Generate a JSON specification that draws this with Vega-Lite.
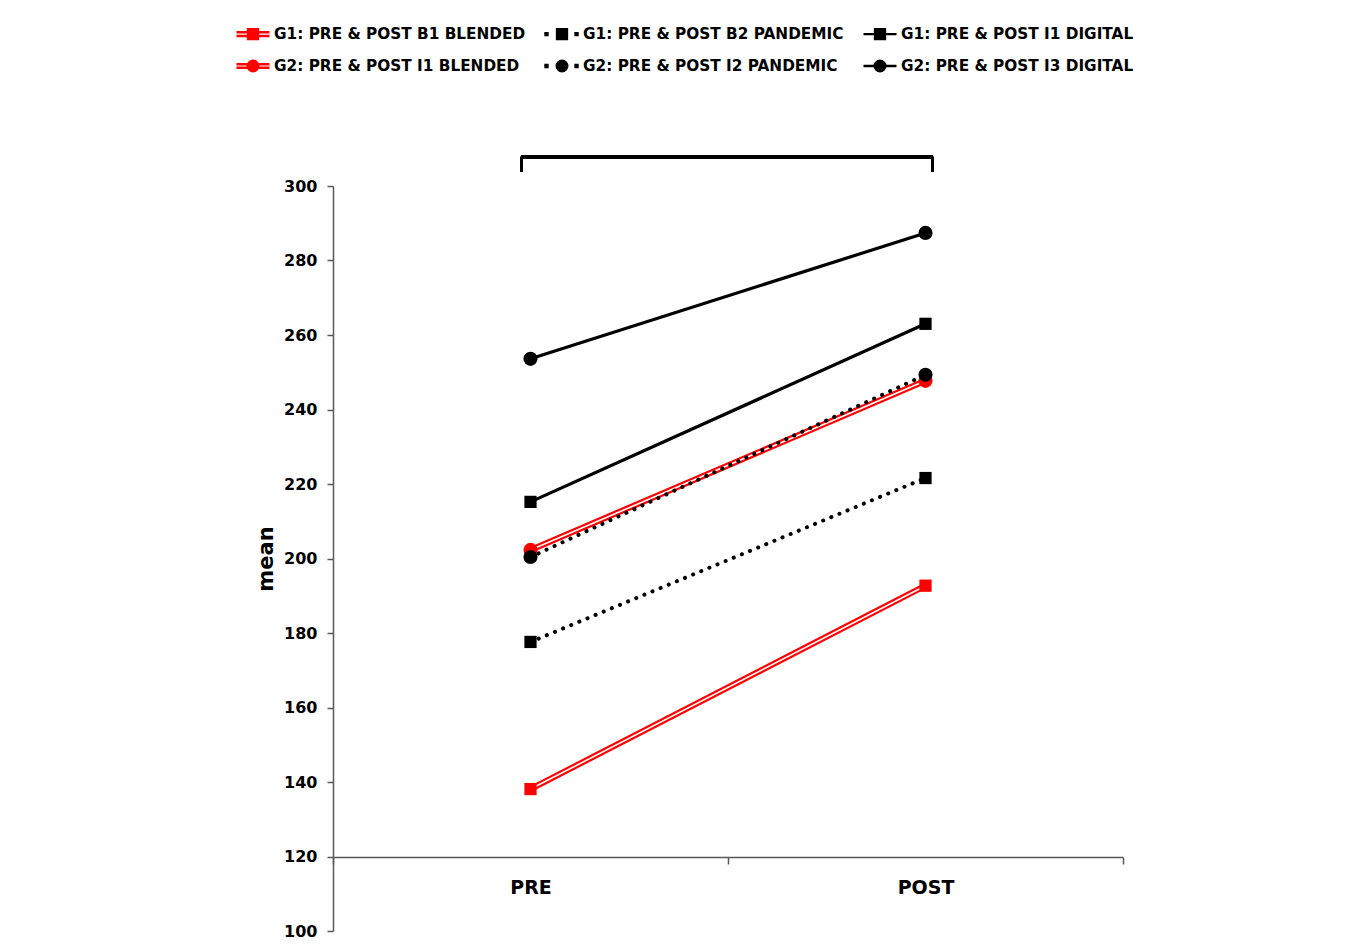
{
  "$schema": "https://vega.github.io/schema/vega-lite/v6.json",
  "width": 790,
  "height": 745,
  "autosize": {"type": "none"},
  "padding": {"left": 333, "top": 186, "right": 234, "bottom": 15},
  "background": "white",
  "config": {
    "font": "DejaVu Sans",
    "view": {"stroke": null},
    "axis": {"grid": false, "domainColor": "#595959", "tickColor": "#595959", "domainWidth": 1.5, "tickWidth": 1.5, "labelColor": "black", "labelFontWeight": "bold"},
    "legend": {"padding": 0, "labelFontSize": 15.3, "labelFontWeight": "bold", "labelColor": "black", "labelFont": "DejaVu Sans", "labelOffset": 3, "columnPadding": 14, "rowPadding": 4, "symbolSize": 1089, "symbolStrokeWidth": 2.4, "labelLimit": 400}
  },
  "data": {
    "values": [
      {"series": "G1: PRE & POST B1 BLENDED", "group": "G1", "kind": "blended", "time": "PRE", "mean": 138.1},
      {"series": "G1: PRE & POST B1 BLENDED", "group": "G1", "kind": "blended", "time": "POST", "mean": 192.7},
      {"series": "G2: PRE & POST I1 BLENDED", "group": "G2", "kind": "blended", "time": "PRE", "mean": 202.3},
      {"series": "G2: PRE & POST I1 BLENDED", "group": "G2", "kind": "blended", "time": "POST", "mean": 247.7},
      {"series": "G1: PRE & POST B2 PANDEMIC", "group": "G1", "kind": "pandemic", "time": "PRE", "mean": 177.6},
      {"series": "G1: PRE & POST B2 PANDEMIC", "group": "G1", "kind": "pandemic", "time": "POST", "mean": 221.6},
      {"series": "G2: PRE & POST I2 PANDEMIC", "group": "G2", "kind": "pandemic", "time": "PRE", "mean": 200.4},
      {"series": "G2: PRE & POST I2 PANDEMIC", "group": "G2", "kind": "pandemic", "time": "POST", "mean": 249.3},
      {"series": "G1: PRE & POST I1 DIGITAL", "group": "G1", "kind": "digital", "time": "PRE", "mean": 215.2},
      {"series": "G1: PRE & POST I1 DIGITAL", "group": "G1", "kind": "digital", "time": "POST", "mean": 263.0},
      {"series": "G2: PRE & POST I3 DIGITAL", "group": "G2", "kind": "digital", "time": "PRE", "mean": 253.6},
      {"series": "G2: PRE & POST I3 DIGITAL", "group": "G2", "kind": "digital", "time": "POST", "mean": 287.4}
    ]
  },
  "encoding": {
    "x": {
      "field": "time", "type": "nominal",
      "scale": {"type": "band", "domain": ["PRE", "POST"], "paddingInner": 0, "paddingOuter": 0},
      "axis": {"title": null, "offset": -74, "tickBand": "extent", "tickSize": 7, "labelPadding": 14, "labelFontSize": 19, "labelAngle": 0}
    },
    "y": {
      "field": "mean", "type": "quantitative",
      "scale": {"domain": [100, 300], "nice": false, "zero": false},
      "axis": {"title": "mean", "values": [100, 120, 140, 160, 180, 200, 220, 240, 260, 280, 300], "tickSize": 6, "labelPadding": 10, "labelFontSize": 16, "titleFontSize": 21, "titleFontWeight": "bold", "titleColor": "black", "titlePadding": 7}
    }
  },
  "layer": [
    {
      "transform": [{"filter": "datum.kind == 'blended'"}],
      "mark": {"type": "line", "color": "#ff0000", "strokeWidth": 6},
      "encoding": {"detail": {"field": "series"}}
    },
    {
      "transform": [{"filter": "datum.kind == 'blended'"}],
      "mark": {"type": "line", "color": "white", "strokeWidth": 1.6},
      "encoding": {"detail": {"field": "series"}}
    },
    {
      "transform": [{"filter": "datum.kind == 'pandemic'"}],
      "mark": {"type": "line", "color": "black", "strokeWidth": 4, "strokeCap": "round", "strokeDash": [0.1, 8.7]},
      "encoding": {"detail": {"field": "series"}}
    },
    {
      "transform": [{"filter": "datum.kind == 'digital'"}],
      "mark": {"type": "line", "color": "black", "strokeWidth": 3.2},
      "encoding": {"detail": {"field": "series"}}
    },
    {
      "transform": [{"filter": "datum.group == 'G1'"}],
      "mark": {"type": "point", "shape": "square", "filled": true, "opacity": 1, "size": 150},
      "encoding": {"color": {"field": "kind", "type": "nominal", "scale": {"domain": ["blended", "pandemic", "digital"], "range": ["#ff0000", "black", "black"]}, "legend": null}}
    },
    {
      "transform": [{"filter": "datum.group == 'G2'"}],
      "mark": {"type": "point", "shape": "circle", "filled": true, "opacity": 1, "size": 200},
      "encoding": {"color": {"field": "kind", "type": "nominal", "scale": {"domain": ["blended", "pandemic", "digital"], "range": ["#ff0000", "black", "black"]}, "legend": null}}
    },
    {
      "mark": {"type": "rule", "color": "black", "strokeWidth": 3, "xOffset": -9, "x2Offset": 7},
      "encoding": {"x": {"datum": "PRE", "type": "nominal"}, "x2": {"datum": "POST"}, "y": {"datum": 307.8, "type": "quantitative"}}
    },
    {
      "mark": {"type": "rule", "color": "black", "strokeWidth": 3, "xOffset": -9},
      "encoding": {"x": {"datum": "PRE", "type": "nominal"}, "y": {"datum": 307.8, "type": "quantitative"}, "y2": {"datum": 303.8}}
    },
    {
      "mark": {"type": "rule", "color": "black", "strokeWidth": 3, "xOffset": 7},
      "encoding": {"x": {"datum": "POST", "type": "nominal"}, "y": {"datum": 307.8, "type": "quantitative"}, "y2": {"datum": 303.8}}
    },
    {
      "transform": [{"filter": "false"}],
      "mark": {"type": "point", "filled": true, "opacity": 1, "strokeWidth": 2.4, "size": 1089},
      "encoding": {
        "fill": {"field": "series", "type": "nominal", "scale": {"domain": ["G1: PRE & POST B1 BLENDED", "G1: PRE & POST B2 PANDEMIC", "G1: PRE & POST I1 DIGITAL", "G2: PRE & POST I1 BLENDED", "G2: PRE & POST I2 PANDEMIC", "G2: PRE & POST I3 DIGITAL"], "range": ["#ff0000", "black", "black", "#ff0000", "black", "black"]}, "legend": {"title": null, "orient": "none", "legendX": -98, "legendY": -170, "columns": 3, "direction": "horizontal"}},
        "stroke": {"field": "series", "type": "nominal", "scale": {"domain": ["G1: PRE & POST B1 BLENDED", "G1: PRE & POST B2 PANDEMIC", "G1: PRE & POST I1 DIGITAL", "G2: PRE & POST I1 BLENDED", "G2: PRE & POST I2 PANDEMIC", "G2: PRE & POST I3 DIGITAL"], "range": ["#ff0000", "black", "black", "#ff0000", "black", "black"]}, "legend": {"title": null, "orient": "none", "legendX": -98, "legendY": -170, "columns": 3, "direction": "horizontal"}},
        "shape": {"field": "series", "type": "nominal", "scale": {"domain": ["G1: PRE & POST B1 BLENDED", "G1: PRE & POST B2 PANDEMIC", "G1: PRE & POST I1 DIGITAL", "G2: PRE & POST I1 BLENDED", "G2: PRE & POST I2 PANDEMIC", "G2: PRE & POST I3 DIGITAL"], "range": [
          "M-1,-0.11H1M-1,0.11H1M-0.3,-0.3H0.3V0.3H-0.3Z",
          "M-1,-0.06H-0.88V0.06H-1ZM-0.3,-0.3H0.3V0.3H-0.3ZM0.82,-0.06H0.94V0.06H0.82Z",
          "M-1,0H1M-0.3,-0.3H0.3V0.3H-0.3Z",
          "M-1,-0.11H1M-1,0.11H1M0.32,0A0.32,0.32 0 1,1 -0.32,0A0.32,0.32 0 1,1 0.32,0Z",
          "M-1,-0.06H-0.88V0.06H-1ZM0.32,0A0.32,0.32 0 1,1 -0.32,0A0.32,0.32 0 1,1 0.32,0ZM0.82,-0.06H0.94V0.06H0.82Z",
          "M-1,0H1M0.32,0A0.32,0.32 0 1,1 -0.32,0A0.32,0.32 0 1,1 0.32,0Z"
        ]}, "legend": {"title": null, "orient": "none", "legendX": -98, "legendY": -170, "columns": 3, "direction": "horizontal"}}
      }
    }
  ],
  "resolve": {"scale": {"color": "independent"}}
}
